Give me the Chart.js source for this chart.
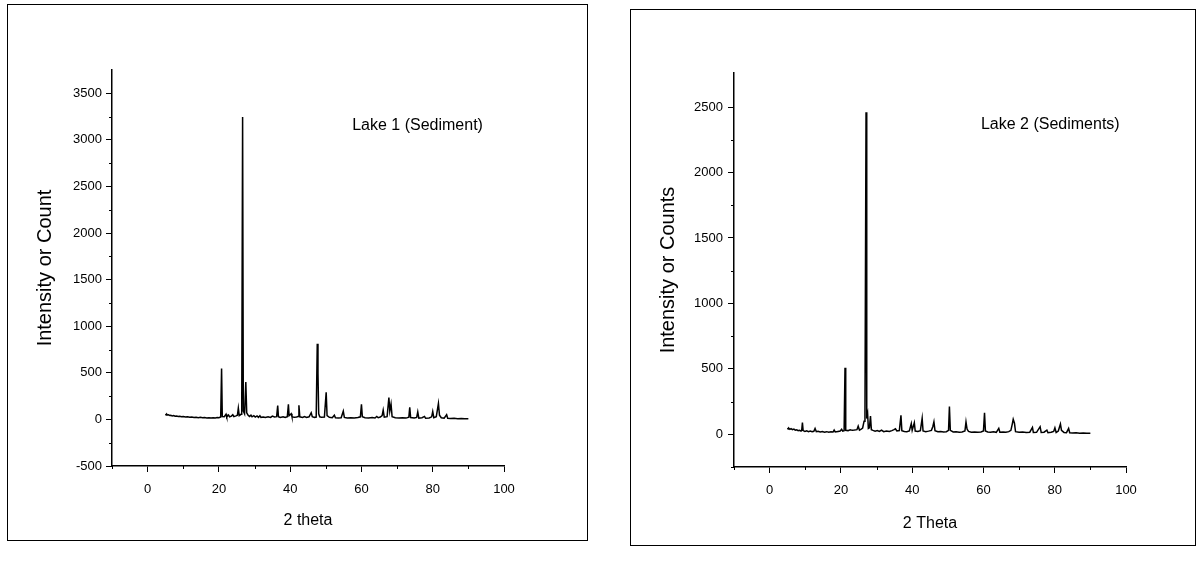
<!DOCTYPE html>
<html>
<head>
<meta charset="utf-8">
<script src="https://cdn.jsdelivr.net/npm/chart.js@4"></script>
<style>
    body { margin: 0; background: #fff; width: 1203px; height: 561px; position: relative; overflow: hidden; }
    .marco { position: absolute; border: 1.5px solid #000; box-sizing: border-box; }
    canvas { position: absolute; top: 0; }
</style>
</head>
<body>
<div class="marco" style="left:7px; top:4px; width:581px; height:537px;"></div>
<div class="marco" style="left:630px; top:9px; width:566px; height:537px;"></div>
<canvas id="graficaLago1" width="600" height="561" style="left:0"></canvas>
<canvas id="graficaLago2" width="603" height="561" style="left:600px"></canvas>
<script>
// DATOS LAGO 1 (2 theta / cuentas)
const theta1 = [5.0, 5.2, 5.4, 5.6, 5.9, 6.2, 6.5, 6.9, 7.3, 7.7, 8.1, 8.6, 9.0, 9.5, 10.0, 10.6, 11.2, 11.8, 12.4, 13.0,
    13.6, 14.2, 14.8, 15.4, 16.0, 16.6, 17.2, 17.8, 18.4, 19.0, 19.5, 20.0, 20.5,
    20.75, 20.95, 21.5, 22.0, 22.2, 22.7, 23.0, 23.5, 23.9, 24.2, 24.8, 25.2, 25.45, 25.7, 26.2, 26.4, 26.65,
    26.85, 27.2, 27.55, 27.8, 28.2, 28.6, 29.0, 29.3, 29.8, 30.2, 30.7, 31.1, 31.5, 31.8, 32.5, 33.0, 33.8, 34.5, 35.0, 35.6,
    36.2, 36.5, 36.7, 37.2, 38.0, 38.6, 39.2, 39.5, 39.7, 40.3, 40.5, 41.2, 41.8, 42.2, 42.45, 42.7, 43.5, 44.0, 44.6, 45.3,
    45.9, 46.2, 46.8, 47.3, 47.6, 47.8, 48.0, 48.3, 48.8, 49.6, 50.1, 50.35, 51.0, 51.8, 52.4, 52.7, 53.5, 54.3, 54.9, 55.2,
    56.0, 57.0, 58.0, 59.0, 59.7, 60.0, 60.25, 61.0, 62.0, 63.0, 63.8, 64.3, 64.7, 65.3, 65.8, 66.1, 66.4, 67.2, 67.7, 67.95,
    68.3, 68.6, 69.5, 70.5, 71.5, 72.5, 73.3, 73.55, 73.8, 74.8, 75.5, 75.8, 76.1, 77.0, 77.7, 78.0, 79.0, 79.7, 80.0, 80.3,
    81.0, 81.6, 81.9, 82.4, 83.2, 83.9, 84.2, 85.0, 86.0, 87.0, 88.0, 89.0, 90.0];
const cuentas1 = [58, 48, 55, 47, 50, 42, 45, 38, 41, 34, 37, 31, 34, 28, 31, 26, 29, 23, 26, 21,
    24, 19, 22, 17, 20, 16, 19, 15, 18, 16, 21, 18, 26,
    545, 30, 28, 55, 26, 48, 28, 35, 50, 30, 38, 45, 120, 40, 55, 70, 3245,
    90, 60, 400, 70, 45, 32, 45, 28, 40, 25, 38, 22, 40, 22, 25, 20, 28, 22, 35, 26,
    30, 148, 30, 22, 28, 20, 30, 162, 40, 62, 28, 22, 25, 30, 152, 28, 22, 30, 20, 28,
    72, 30, 22, 25, 812, 495, 60, 28, 22, 25, 290, 40, 22, 18, 45, 18, 16, 18, 88, 22,
    15, 18, 14, 20, 28, 162, 28, 18, 15, 20, 15, 32, 18, 25, 40, 100, 25, 30, 235, 90,
    165, 30, 18, 15, 18, 14, 25, 130, 20, 15, 22, 80, 14, 18, 32, 12, 15, 28, 85, 18,
    30, 172, 45, 18, 14, 50, 12, 10, 12, 8, 10, 7, 6];

// DATOS LAGO 2 (2 theta / cuentas)
const theta2 = [5.0, 5.2, 5.4, 5.7, 6.0, 6.4, 6.8, 7.2, 7.6, 8.0, 8.4, 8.8, 9.0, 9.2, 9.4, 9.9, 10.4, 10.9, 11.4, 11.9,
    12.4, 12.75, 13.1, 13.6, 14.2, 14.8, 15.4, 16.0, 16.6, 17.2, 17.8, 18.1, 18.4,
    19.2, 19.8, 20.2, 20.5, 20.9, 21.15, 21.35, 22.0, 22.6, 23.2, 23.8, 24.5, 24.85, 25.2, 25.7,
    26.1, 26.5, 26.75, 27.05, 27.25, 27.5, 27.7, 28.0, 28.3, 28.55, 29.0, 29.6, 30.2, 30.8, 31.4, 32.0, 32.8, 33.6, 34.3, 34.9,
    35.3, 35.7, 36.4, 36.85, 37.1, 37.8, 38.5, 39.2, 39.75, 40.0, 40.6, 40.85, 41.6, 42.3, 42.8, 43.05, 43.8, 44.6, 45.4, 45.8,
    46.1, 46.4, 47.2, 48.0, 48.8, 49.6, 50.2, 50.45, 50.7, 51.5, 52.3, 53.2, 54.0, 54.8, 55.1, 55.4, 55.8, 56.6, 57.5, 58.4,
    59.3, 60.0, 60.3, 60.55, 61.2, 62.0, 62.8, 63.6, 64.3, 64.6, 65.5, 66.3, 67.1, 67.7, 68.1, 68.35, 68.7, 69.0, 70.0, 71.0,
    72.0, 73.0, 73.75, 74.0, 74.9, 75.9, 76.2, 77.0, 77.8, 78.1, 79.0, 79.7, 80.05, 80.4, 81.0, 81.6, 81.9, 82.6, 83.3, 83.9,
    84.2, 85.0, 86.0, 87.0, 88.0, 89.0, 90.0];
const cuentas2 = [48, 40, 46, 38, 43, 35, 39, 31, 34, 27, 30, 25, 30, 90, 28, 22, 26, 20, 24, 19,
    23, 45, 20, 23, 17, 21, 16, 20, 15, 19, 17, 32, 18,
    22, 25, 38, 24, 28, 508, 30, 28, 35, 30, 32, 35, 62, 32, 40,
    48, 100, 150, 2460, 120, 155, 45, 50, 140, 35, 30, 24, 28, 22, 32, 20, 25, 22, 28, 35,
    42, 25, 28, 145, 28, 22, 20, 25, 82, 30, 88, 25, 22, 28, 122, 25, 20, 24, 30, 60,
    95, 28, 20, 22, 18, 20, 30, 212, 30, 18, 20, 16, 18, 25, 95, 40, 22, 16, 18, 15,
    18, 25, 165, 25, 18, 15, 20, 15, 45, 16, 18, 15, 20, 30, 80, 115, 85, 20, 15, 18,
    14, 16, 52, 14, 15, 58, 14, 16, 32, 12, 15, 22, 50, 14, 25, 78, 30, 14, 12, 45,
    12, 10, 12, 8, 10, 7, 8];

// EJES
const ticksX = [0, 20, 40, 60, 80, 100];
const menoresX = [-10, 10, 30, 50, 70, 90];
const ticksY1 = [-500, 0, 500, 1000, 1500, 2000, 2500, 3000, 3500];
const menoresY1 = [-250, 250, 750, 1250, 1750, 2250, 2750, 3250];
const ticksY2 = [0, 500, 1000, 1500, 2000, 2500];
const menoresY2 = [-250, 250, 750, 1250, 1750, 2250];

const FUENTE = "'Liberation Sans', Arial, sans-serif";

// Marcas menores de los ejes y la etiqueta de la muestra
const pluginExtras = {
    id: 'extras',
    afterDraw(chart, args, opts) {
        const ctx = chart.ctx;
        const sx = chart.scales.x, sy = chart.scales.y;
        const area = chart.chartArea;
        ctx.save();
        ctx.strokeStyle = '#000';
        ctx.lineWidth = 1;
        ctx.beginPath();
        opts.menoresX.forEach(v => {
            const px = Math.round(sx.getPixelForValue(v)) + 0.5;
            ctx.moveTo(px, area.bottom);
            ctx.lineTo(px, area.bottom + 3);
        });
        opts.menoresY.forEach(v => {
            const py = Math.round(sy.getPixelForValue(v)) + 0.5;
            ctx.moveTo(area.left, py);
            ctx.lineTo(area.left - 3, py);
        });
        ctx.stroke();
        ctx.fillStyle = '#000';
        ctx.font = '16px ' + FUENTE;
        ctx.textAlign = 'left';
        ctx.textBaseline = 'middle';
        ctx.fillText(opts.texto, sx.getPixelForValue(opts.pos[0]), sy.getPixelForValue(opts.pos[1]));
        ctx.restore();
    }
};

function crearGrafica(id, theta, cuentas, cfg) {
    const puntos = theta.map((t, i) => ({ x: t, y: cuentas[i] }));
    return new Chart(document.getElementById(id), {
        type: 'line',
        data: {
            datasets: [{
                data: puntos,
                borderColor: '#000',
                borderWidth: 1.5,
                pointRadius: 0,
                tension: 0
            }]
        },
        options: {
            responsive: false,
            animation: false,
            devicePixelRatio: 1,
            layout: { padding: { left: 0, top: cfg.arriba, right: cfg.derecha, bottom: 0 } },
            plugins: {
                legend: { display: false },
                tooltip: { enabled: false },
                extras: { menoresX: menoresX, menoresY: cfg.menoresY, texto: cfg.texto, pos: cfg.posTexto }
            },
            scales: {
                x: {
                    type: 'linear',
                    min: -10,
                    max: 100,
                    afterBuildTicks: s => { s.ticks = ticksX.map(v => ({ value: v })); },
                    afterFit: s => { s.height = cfg.altoX; },
                    grid: { drawOnChartArea: false, color: '#000', tickLength: 6 },
                    border: { color: '#000', width: 1.5 },
                    ticks: { color: '#000', padding: 10, maxRotation: 0, font: { family: FUENTE, size: 13 },
                        callback: v => String(v) },
                    title: { display: true, text: cfg.tituloX, color: '#000', padding: { bottom: cfg.padTituloX },
                        font: { family: FUENTE, size: 16 } }
                },
                y: {
                    min: cfg.minY,
                    max: cfg.maxY,
                    afterBuildTicks: s => { s.ticks = cfg.ticksY.map(v => ({ value: v })); },
                    afterFit: s => { s.width = cfg.anchoY; },
                    grid: { drawOnChartArea: false, color: '#000', tickLength: 6 },
                    border: { color: '#000', width: 1.5 },
                    ticks: { color: '#000', padding: cfg.padTicksY, font: { family: FUENTE, size: 13 },
                        callback: v => String(v) },
                    title: { display: true, text: cfg.tituloY, color: '#000', padding: { top: cfg.padTituloY },
                        font: { family: FUENTE, size: 20 } }
                }
            }
        },
        plugins: [pluginExtras]
    });
}

crearGrafica('graficaLago1', theta1, cuentas1, {
    arriba: 70, derecha: 96, altoX: 95, anchoY: 112,
    minY: -500, maxY: 3750, ticksY: ticksY1, menoresY: menoresY1,
    padTicksY: 4, padTituloY: 33, padTituloX: 31,
    tituloX: '2 theta', tituloY: 'Intensity or Count',
    texto: 'Lake 1 (Sediment)', posTexto: [57.4, 3150]
});

crearGrafica('graficaLago2', theta2, cuentas2, {
    arriba: 73, derecha: 77, altoX: 94, anchoY: 134,
    minY: -250, maxY: 2760, ticksY: ticksY2, menoresY: menoresY2,
    padTicksY: 5, padTituloY: 56, padTituloX: 28,
    tituloX: '2 Theta', tituloY: 'Intensity or Counts',
    texto: 'Lake 2 (Sediments)', posTexto: [59.3, 2368]
});
</script>
</body>
</html>
